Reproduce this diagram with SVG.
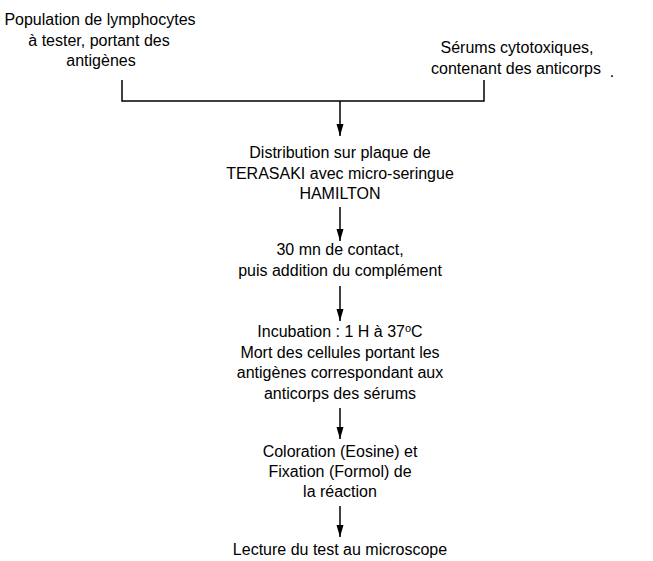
<svg xmlns="http://www.w3.org/2000/svg" width="653" height="561" viewBox="0 0 653 561">
<defs>
<style>
text{font-family:"Liberation Sans",Arial,sans-serif;font-size:16px;fill:#000;text-anchor:middle}
.c{stroke:#000;stroke-width:1.5;fill:none}
</style>
<marker id="ah" markerWidth="13" markerHeight="8" refX="12" refY="4" orient="auto" markerUnits="userSpaceOnUse">
<path d="M0,0.5 L12,4 L0,7.5 Z" fill="#000"/>
</marker>
</defs>
<rect width="653" height="561" fill="#fff"/>
<g id="n-lympho">
<text x="100" y="25">Population de lymphocytes</text>
<text x="99" y="46">à tester, portant des</text>
<text x="101" y="66">antigènes</text>
</g>
<g id="n-serums">
<text x="517" y="53">Sérums cytotoxiques,</text>
<text x="516" y="74">contenant des anticorps</text>
<text x="612" y="77">.</text>
</g>
<g id="n-distrib">
<text x="340" y="158">Distribution sur plaque de</text>
<text x="340" y="179">TERASAKI avec micro-seringue</text>
<text x="340" y="199">HAMILTON</text>
</g>
<g id="n-contact">
<text x="340" y="255">30 mn de contact,</text>
<text x="340" y="276">puis addition du complément</text>
</g>
<g id="n-incub">
<text x="340" y="337">Incubation : 1 H à 37<tspan dy="-5" font-size="11">o</tspan><tspan dy="5">C</tspan></text>
<text x="340" y="358">Mort des cellules portant les</text>
<text x="340" y="378">antigènes correspondant aux</text>
<text x="340" y="399">anticorps des sérums</text>
</g>
<g id="n-color">
<text x="340" y="457">Coloration (Eosine) et</text>
<text x="340" y="477">Fixation (Formol) de</text>
<text x="340" y="497">la réaction</text>
</g>
<g id="n-lecture">
<text x="340" y="555">Lecture du test au microscope</text>
</g>
<g id="connectors" class="c">
<path d="M122,80 V101 H484 V80"/>
<path d="M340,101 V136" marker-end="url(#ah)"/>
<path d="M340,207 V241" marker-end="url(#ah)"/>
<path d="M340,286 V321" marker-end="url(#ah)"/>
<path d="M340,408 V439" marker-end="url(#ah)"/>
<path d="M340,506 V537" marker-end="url(#ah)"/>
</g>
</svg>
